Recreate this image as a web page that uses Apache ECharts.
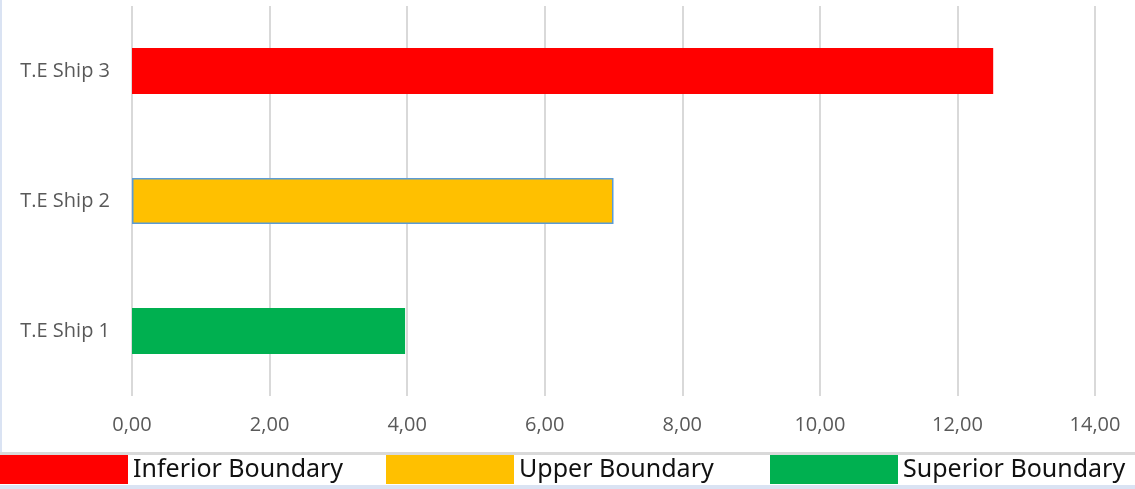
<!DOCTYPE html>
<html>
<head>
<meta charset="utf-8">
<script src="https://cdn.jsdelivr.net/npm/echarts@6/dist/echarts.min.js"></script>
<style>
  html, body { margin: 0; padding: 0; background: #fff; }
  #chart { width: 1135px; height: 489px; }
</style>
</head>
<body>
<div id="chart"></div>
<script>
const ships = ['T.E Ship 1', 'T.E Ship 2', 'T.E Ship 3'];
const seriesNames = ['Superior Boundary', 'Upper Boundary', 'Inferior Boundary'];
const shipValues = [3.97, 7.0, 12.52];
const legendOrder = ['Inferior Boundary', 'Upper Boundary', 'Superior Boundary'];
const colors = { 'Superior Boundary': '#00b050', 'Upper Boundary': '#ffc000', 'Inferior Boundary': '#ff0000' };

const chart = echarts.init(document.getElementById('chart'));

const series = seriesNames.map((name, i) => ({
  name: name,
  type: 'bar',
  stack: 'all',
  barWidth: 46,
  itemStyle: name === 'Upper Boundary'
    ? { color: colors[name], borderColor: '#5b9bd5', borderWidth: 1.5 }
    : { color: colors[name] },
  data: ships.map((s, j) => (j === i ? shipValues[j] : '-'))
}));

const legendLeft = [0, 386, 770];
const legends = legendOrder.map((name, i) => ({
  left: legendLeft[i],
  top: 455,
  padding: 0,
  itemWidth: 128,
  itemHeight: 29,
  icon: 'rect',
  selectedMode: false,
  data: [{ name: name, itemStyle: { borderWidth: 0 } }],
  textStyle: { fontFamily: 'Noto Sans', fontSize: 25, color: '#111' }
}));

chart.setOption({
  animation: false,
  grid: { left: 132, right: 40, top: 6, bottom: 93 },
  legend: legends,
  xAxis: {
    type: 'value',
    min: 0,
    max: 14,
    interval: 2,
    axisLine: { show: false },
    axisTick: { show: false },
    splitLine: { lineStyle: { color: '#d9d9d9', width: 2 } },
    axisLabel: {
      margin: 19,
      fontFamily: 'Open Sans',
      fontSize: 20,
      color: '#595959',
      formatter: v => v.toFixed(2).replace('.', ',')
    }
  },
  yAxis: {
    type: 'category',
    data: ships,
    axisLine: { show: false },
    axisTick: { show: false },
    axisLabel: { margin: 22, fontFamily: 'Open Sans', fontSize: 20, color: '#595959' }
  },
  graphic: [
    { type: 'rect', shape: { x: 0, y: 0, width: 2, height: 453 }, style: { fill: '#dae3f3' } },
    { type: 'rect', shape: { x: 0, y: 452, width: 1135, height: 3 }, style: { fill: '#d9d9d9' } },
    { type: 'rect', shape: { x: 0, y: 485, width: 1135, height: 4 }, style: { fill: '#dae3f3' } }
  ],
  series: series
});
</script>
</body>
</html>
